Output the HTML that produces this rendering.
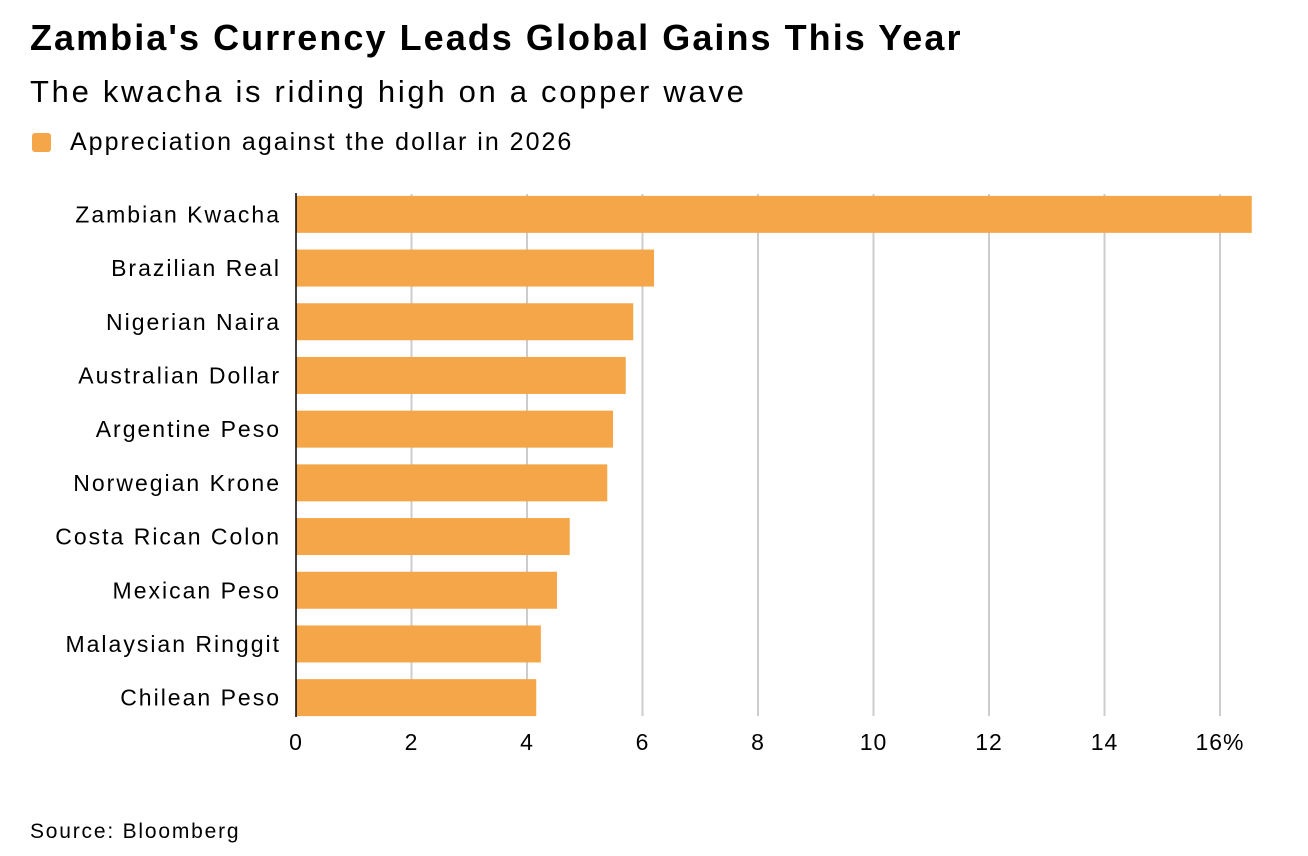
<!DOCTYPE html>
<html><head><meta charset="utf-8"><style>
body{margin:0;background:#fff;font-family:"Liberation Sans",sans-serif;}
.t{position:absolute;left:30px;color:#000;white-space:nowrap;}
</style></head><body>
<div style="position:relative;width:1308px;height:856px;overflow:hidden">
<div class="t" style="top:17px;font-size:36px;font-weight:bold;letter-spacing:2.05px">Zambia's Currency Leads Global Gains This Year</div>
<div class="t" style="top:74px;font-size:31px;letter-spacing:2.7px">The kwacha is riding high on a copper wave</div>
<div style="position:absolute;left:32px;top:128px;font-size:25px;letter-spacing:2px;display:flex;align-items:center;white-space:nowrap">
<span style="width:19px;height:19px;background:#f4a648;border-radius:3px;display:inline-block;margin-right:19px"></span>Appreciation against the dollar in 2026</div>
<svg id="c" width="1308" height="856" style="position:absolute;left:0;top:0"></svg>
<div class="t" style="top:820px;font-size:21px;letter-spacing:1.8px">Source: Bloomberg</div>
</div>
<script>
const categories=["Zambian Kwacha","Brazilian Real","Nigerian Naira","Australian Dollar","Argentine Peso","Norwegian Krone","Costa Rican Colon","Mexican Peso","Malaysian Ringgit","Chilean Peso"];
const values=[16.55,6.2,5.84,5.71,5.49,5.39,4.74,4.52,4.24,4.16];
const ticks=[0,2,4,6,8,10,12,14,16];
const tickLabels=["0","2","4","6","8","10","12","14","16%"];
const svg=document.getElementById('c'),NS="http://www.w3.org/2000/svg";
const x=v=>296+v*57.75;
const y0=187.5,step=53.7,bh=37;
function mk(t,a){const e=document.createElementNS(NS,t);for(const k in a)e.setAttribute(k,a[k]);svg.appendChild(e);return e;}
ticks.forEach((t,i)=>{
 if(t>0){const g=mk('line',{x1:x(t),x2:x(t),y1:194,y2:716,stroke:'#cccccc','stroke-width':2});
 
 }
 const l=mk('text',{x:x(t),y:750,'font-size':23,'letter-spacing':1,'text-anchor':'middle','font-family':'Liberation Sans, sans-serif'});
 l.textContent=tickLabels[i];
 
 
});
categories.forEach((c,i)=>{
 const cy=y0+step*i+step/2;
 const r=mk('rect',{x:x(0),y:cy-bh/2,width:x(values[i])-x(0),height:bh,fill:'#f4a648'});
 
 
 const t=mk('text',{x:281,y:cy+8,'font-size':23,'letter-spacing':2,'text-anchor':'end','font-family':'Liberation Sans, sans-serif'});
 t.textContent=c;
 
 
});
const ax=mk('line',{x1:296,x2:296,y1:193,y2:717,stroke:'#000','stroke-width':1.5});


</script>
</body></html>
